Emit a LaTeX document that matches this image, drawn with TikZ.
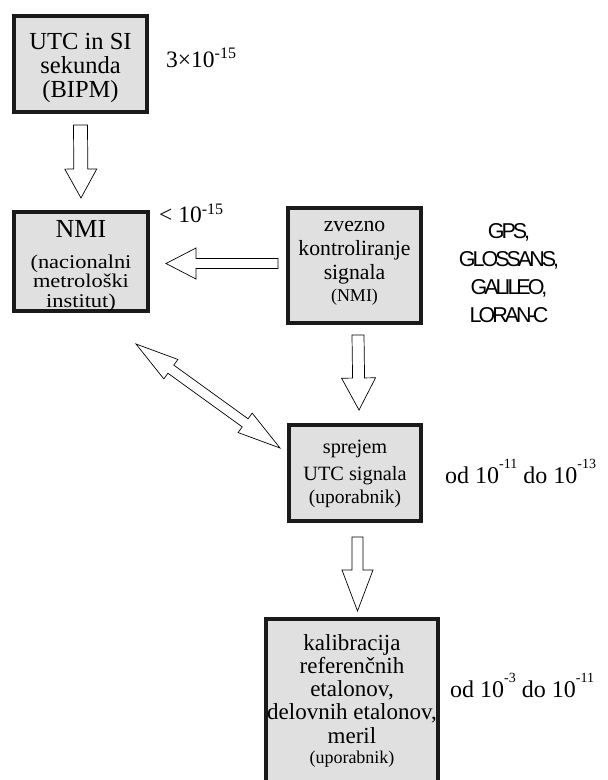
\documentclass[tikz,border=0pt]{standalone}
\usepackage{fontspec}
\setmainfont{Liberation Serif}
\newfontfamily\wideserif[FakeStretch=1.15]{Liberation Serif}
\newfontfamily\gpsfont[LetterSpace=-14]{Liberation Sans}
\usetikzlibrary{calc}
\definecolor{boxfill}{RGB}{224,224,224}
\definecolor{boxline}{RGB}{26,26,26}
% centred lines with a fixed distance between baselines
\newcommand{\rowstack}[2]{\vtop{\baselineskip=#1\lineskiplimit=-\maxdimen\lineskip=0pt\halign{\hfil##\hfil\cr#2\crcr}}}
\newcommand{\setfs}[1]{\fontsize{#1}{#1}\selectfont}
% raised exponent: raise, size, text
\newcommand{\sxp}[3]{\raisebox{#1}{\setfs{#2}#3}}
% hollow block arrow: tail, tip, shaft half-width, head half-width, head length
\newcommand{\fatarrow}[5]{%
  \coordinate (fah) at ($(#2)!#5!(#1)$);
  \draw[blockarrow] ($(#1)!#3!90:(#2)$) -- ($(fah)!#3!90:(#2)$) -- ($(fah)!#4!90:(#2)$) -- (#2)
    -- ($(fah)!#4!-90:(#2)$) -- ($(fah)!#3!-90:(#2)$) -- ($(#1)!#3!-90:(#2)$) -- cycle;}
% hollow block arrow with a head at both ends
\newcommand{\fatdoublearrow}[5]{%
  \coordinate (fda) at ($(#1)!#5!(#2)$);
  \coordinate (fdb) at ($(#2)!#5!(#1)$);
  \draw[blockarrow] (#1) -- ($(fda)!#4!90:(#2)$) -- ($(fda)!#3!90:(#2)$) -- ($(fdb)!#3!-90:(#1)$)
    -- ($(fdb)!#4!-90:(#1)$) -- (#2) -- ($(fdb)!#4!90:(#1)$) -- ($(fdb)!#3!90:(#1)$)
    -- ($(fda)!#3!-90:(#2)$) -- ($(fda)!#4!-90:(#2)$) -- cycle;}
\begin{document}
\begin{tikzpicture}[x=1pt,y=-1pt,
  box/.style={draw=boxline,line width=4pt,fill=boxfill,inner sep=0pt},
  txt/.style={anchor=base,inner sep=0pt,text=black},
  lbl/.style={anchor=base west,inner sep=0pt,text=black},
  blockarrow/.style={draw=black,line width=0.7pt,fill=white,line join=miter}]
\useasboundingbox (0,0) rectangle (608,780);
\clip (0,0) rectangle (608,780);

% boxes
\node[box,minimum width=133pt,minimum height=96pt] (utc) at (80.5,64) {};
\node[box,minimum width=134pt,minimum height=99pt] (nmi) at (81,261.5) {};
\node[box,minimum width=133pt,minimum height=115pt] (zvezno) at (354.5,265.5) {};
\node[box,minimum width=132pt,minimum height=96pt] (sprejem) at (355,473) {};
\node[box,minimum width=172pt,minimum height=179pt] (kal) at (352,708.5) {};

% box texts
\node[txt,font=\setfs{24.5}] (utct) at (80.5,49)
  {\rowstack{24pt}{UTC in SI\cr sekunda\cr (BIPM)}};
\node[txt,font=\wideserif\setfs{19.5}] (nmit) at (81,237)
  {\rowstack{19.5pt}{\normalfont\setfs{26}NMI\cr\noalign{\vskip11.5pt}(nacionalni\cr metrološki\cr institut)}};
\node[txt,font=\setfs{21.7}] (zveznot) at (354.5,231)
  {\rowstack{24pt}{zvezno\cr kontroliranje\cr signala\cr\noalign{\vskip-2pt}\setfs{18}(NMI)}};
\node[txt,font=\setfs{20.3}] (sprejemt) at (355,453)
  {\rowstack{25pt}{sprejem\cr\noalign{\vskip2pt}UTC signala\cr\noalign{\vskip-2pt}\setfs{19.5}(uporabnik)}};
\node[txt,font=\setfs{23}] (kalt) at (352,650)
  {\rowstack{23.3pt}{kalibracija\cr referenčnih\cr etalonov,\cr delovnih etalonov,\cr meril\cr\noalign{\vskip-3.3pt}\setfs{18}(uporabnik)}};

% accuracy labels
\node[lbl,font=\setfs{23.5}] (acc1) at (166,67) {3×10\sxp{9pt}{16}{-15}};
\node[lbl,font=\setfs{23.5}] (acc2) at (159,222) {< 10\sxp{8pt}{16}{-15}};
\node[lbl,font=\setfs{24}] (acc3) at (445,483) {od 10\sxp{15pt}{14}{-11} do 10\sxp{15pt}{14}{-13}};
\node[lbl,font=\setfs{24}] (acc4) at (450,697) {od 10\sxp{15pt}{14}{-3} do 10\sxp{15pt}{14}{-11}};

% signal sources
\node[txt,font=\gpsfont\setfs{21.5}] (gps) at (509,238)
  {\rowstack{28pt}{GPS,\cr GLOSSANS,\cr GALILEO,\cr LORAN-C}};

% arrow end points
\coordinate (a1s) at ($(utc.south)+(0,11)$);
\coordinate (a1e) at ($(nmi.north)+(0,-12)$);
\coordinate (a2s) at ($(zvezno.west)+(-8,-2)$);
\coordinate (a2e) at ($(nmi.east)+(16,2)$);
\coordinate (a3s) at ($(zvezno.south)+(3.5,10)$);
\coordinate (a3e) at ($(sprejem.north)+(4,-13)$);
\coordinate (a4s) at ($(sprejem.south)+(2.5,14)$);
\coordinate (a4e) at ($(kal.north)+(5.5,-6)$);
\coordinate (d1) at ($(nmi.south east)+(-14,31)$);
\coordinate (d2) at ($(sprejem.west)+(-7,-25)$);

% arrows
\fatarrow{a1s}{a1e}{7pt}{16pt}{29pt}
\fatarrow{a2s}{a2e}{5pt}{15.5pt}{30pt}
\fatarrow{a3s}{a3e}{6pt}{17pt}{32pt}
\fatarrow{a4s}{a4e}{5.5pt}{15.5pt}{41pt}
\fatdoublearrow{d1}{d2}{5pt}{12pt}{43pt}
\end{tikzpicture}
\end{document}
